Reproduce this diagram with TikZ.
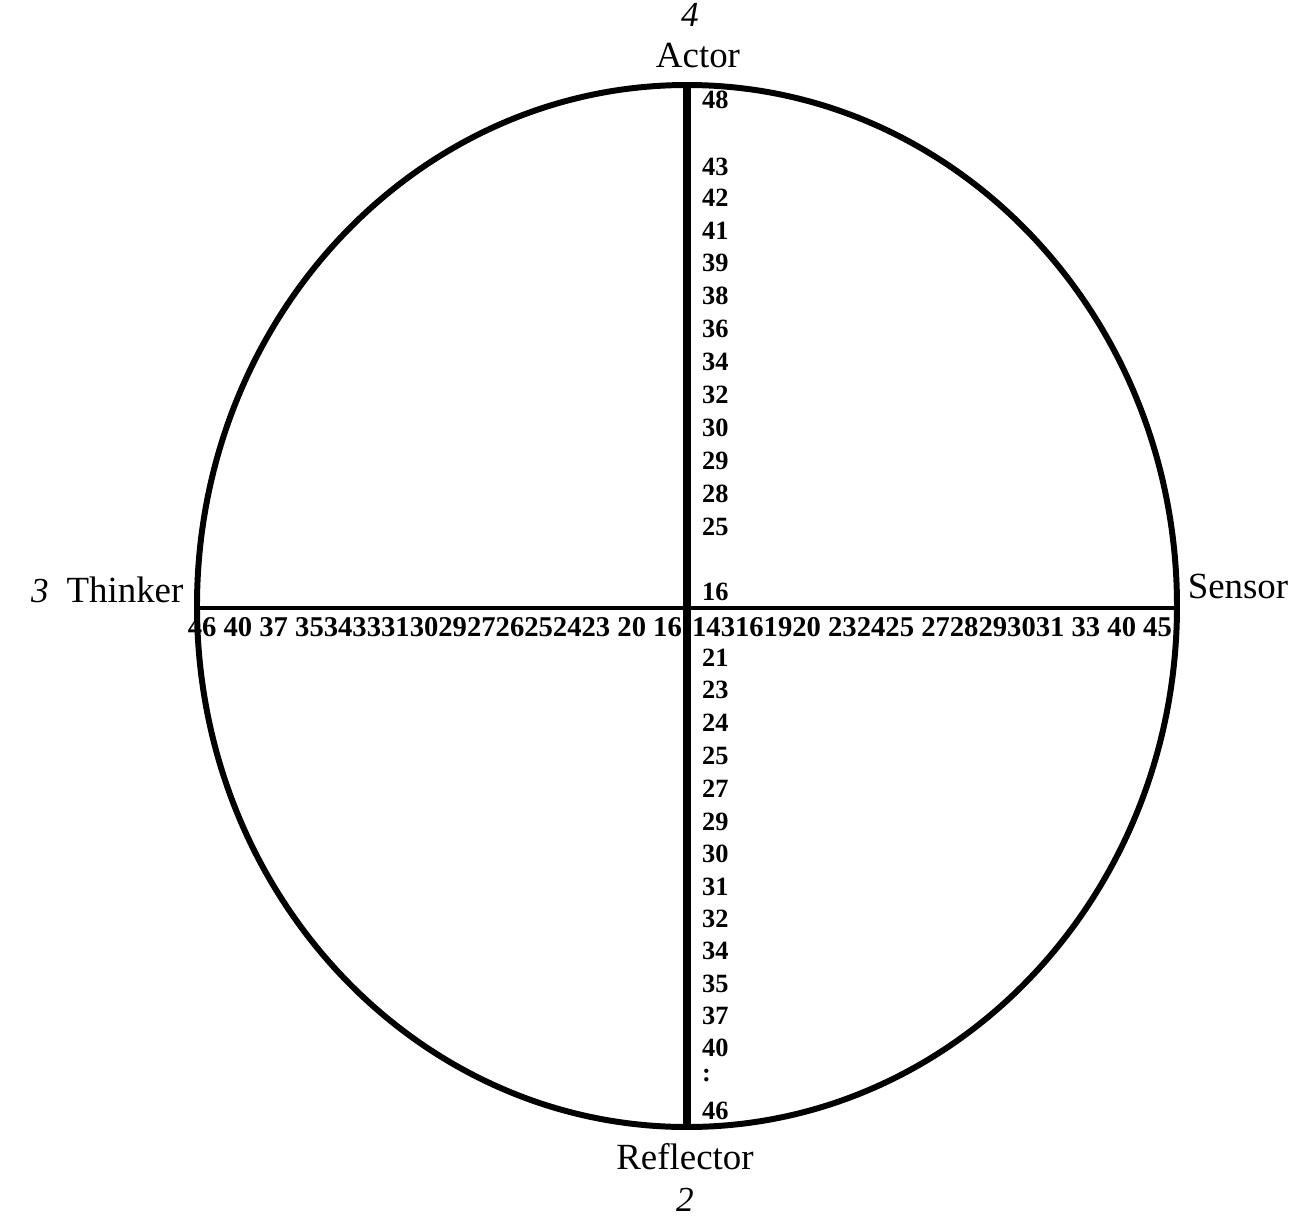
\documentclass[tikz,border=0pt]{standalone}
\usepackage{fontspec}
\setmainfont{Liberation Serif}
\usepackage{tikz}
\usetikzlibrary{positioning, calc}

\begin{document}
\begin{tikzpicture}[
    every node/.style={font=\fontsize{21}{24}\selectfont, inner sep=1pt},
    axisnum/.style={font=\fontsize{15}{17}\selectfont\bfseries, anchor=west},
    rownum/.style={font=\fontsize{16.3}{18}\selectfont\bfseries},
    hand/.style={font=\fontsize{20}{22}\selectfont\itshape},
]
    \useasboundingbox (-13.74, -12.26) rectangle (12.32, 12.12);

    % Outer ellipse
    \draw[line width=3.4pt] (0, 0) ellipse (9.8 and 10.42);

    % Axes
    \coordinate (top) at (0, 10.42);
    \coordinate (bottom) at (0, -10.42);
    \coordinate (left) at (-9.8, -0.04);
    \coordinate (right) at (9.8, -0.04);
    \draw[line width=4.5pt] (top) -- (bottom);
    \draw[line width=2.8pt] (left) -- (right);

    % Pole labels
    \node (actor) at (0.22, 11.02) {Actor};
    \node[hand] (four) at (0.06, 11.82) {4};
    \node (reflector) at (-0.04, -11.02) {Reflector};
    \node[hand] (two) at (-0.04, -11.88) {2};
    \node (thinker) at (-11.24, 0.32) {Thinker};
    \node[hand] (three) at (-12.94, 0.30) {3};
    \node (sensor) at (11.02, 0.40) {Sensor};

    % Upper scale
    \foreach \y/\v [count=\i] in {10.12/48, 8.78/43, 8.16/42, 7.5/41, 6.86/39, 6.2/38,
        5.54/36, 4.88/34, 4.22/32, 3.56/30, 2.9/29, 2.24/28, 1.58/25, 0.28/16}
        \node[axisnum] (up\i) at (0.26, \y) {\v};

    % Lower scale
    \foreach \y/\v [count=\i] in {-1.04/21, -1.68/23, -2.34/24, -3.0/25, -3.66/27,
        -4.32/29, -4.96/30, -5.62/31, -6.26/32, -6.9/34, -7.56/35, -8.2/37,
        -8.84/40, -9.38/:, -10.1/46}
        \node[axisnum] (down\i) at (0.26, \y) {\v};

    % Horizontal scale
    \node[rownum, anchor=east] (leftrow) at (-0.06, -0.42)
        {46 40 37 3534333130292726252423 20 16};
    \node[rownum, anchor=west] (rightrow) at (0.06, -0.42)
        {143161920 232425 2728293031 33 40 45};
\end{tikzpicture}
\end{document}
